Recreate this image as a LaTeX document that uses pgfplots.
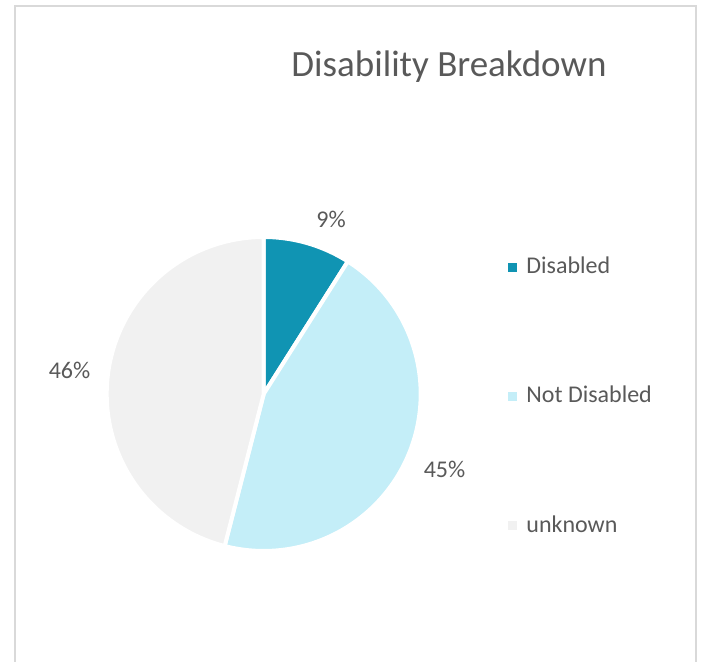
\documentclass[border=0pt]{standalone}
\usepackage{pgfplots}
\usepackage{pgfplotstable}
\usepackage{fontspec}
\setmainfont{Carlito}
\pgfplotsset{compat=1.18}
\definecolor{cA}{HTML}{1094B3}
\definecolor{cB}{HTML}{C4EEF8}
\definecolor{cC}{HTML}{F1F1F1}
\definecolor{txt}{HTML}{595959}
\definecolor{frame}{HTML}{D9D9D9}
\pgfplotstableread{
label value
Disabled 9
NotDisabled 45
unknown 46
}\piedata
\begin{document}%
\begin{tikzpicture}
\pgfplotstablegetelem{0}{value}\of\piedata\let\vA\pgfplotsretval
\pgfplotstablegetelem{1}{value}\of\piedata\let\vB\pgfplotsretval
\pgfplotstablegetelem{2}{value}\of\piedata\let\vC\pgfplotsretval
\pgfmathsetmacro{\aA}{90}
\pgfmathsetmacro{\aB}{\aA-3.6*\vA}
\pgfmathsetmacro{\aC}{\aB-3.6*\vB}
\pgfmathsetmacro{\aD}{\aC-3.6*\vC}
\begin{axis}[
  scale only axis, width=351pt, height=331pt,
  xmin=0, xmax=702, ymin=0, ymax=662,
  hide axis, clip=false,
]
\path (axis cs:0,0) rectangle (axis cs:702,662);
\draw[frame, line width=1pt] (axis cs:15,0) -- (axis cs:15,656) -- (axis cs:695.5,656) -- (axis cs:695.5,0);
\addplot[fill=cA, draw=white, line width=2pt, line join=round, domain=\aB:\aA, samples=40, variable=\t]
  ({263.7+157*cos(\t)},{268+157*sin(\t)}) -- (axis cs:263.7,268) -- cycle;
\addplot[fill=cB, draw=white, line width=2pt, line join=round, domain=\aC:\aB, samples=120, variable=\t]
  ({263.7+157*cos(\t)},{268+157*sin(\t)}) -- (axis cs:263.7,268) -- cycle;
\addplot[fill=cC, draw=white, line width=2pt, line join=round, domain=\aD:\aC, samples=120, variable=\t]
  ({263.7+157*cos(\t)},{268+157*sin(\t)}) -- (axis cs:263.7,268) -- cycle;
\node[anchor=base, text=txt, font=\fontsize{18.5}{22}\selectfont, inner sep=0pt] at (axis cs:449,585) {Disability Breakdown};
\node[anchor=base, text=txt, font=\fontsize{12}{14}\selectfont, inner sep=0pt] at (axis cs:331,434) {9\%};
\node[anchor=base, text=txt, font=\fontsize{12}{14}\selectfont, inner sep=0pt] at (axis cs:444.5,184.3) {45\%};
\node[anchor=base, text=txt, font=\fontsize{12}{14}\selectfont, inner sep=0pt] at (axis cs:69.5,283) {46\%};
\fill[cA] (axis cs:508,390) rectangle (axis cs:517,399);
\fill[cB] (axis cs:508,261) rectangle (axis cs:517,270);
\fill[cC] (axis cs:508,132) rectangle (axis cs:517,141);
\node[anchor=base west, text=txt, font=\fontsize{12}{14}\selectfont, inner sep=0pt] at (axis cs:526,388) {Disabled};
\node[anchor=base west, text=txt, font=\fontsize{12}{14}\selectfont, inner sep=0pt] at (axis cs:526,259) {Not Disabled};
\node[anchor=base west, text=txt, font=\fontsize{12}{14}\selectfont, inner sep=0pt] at (axis cs:526,129) {unknown};
\end{axis}
\end{tikzpicture}%
\end{document}
